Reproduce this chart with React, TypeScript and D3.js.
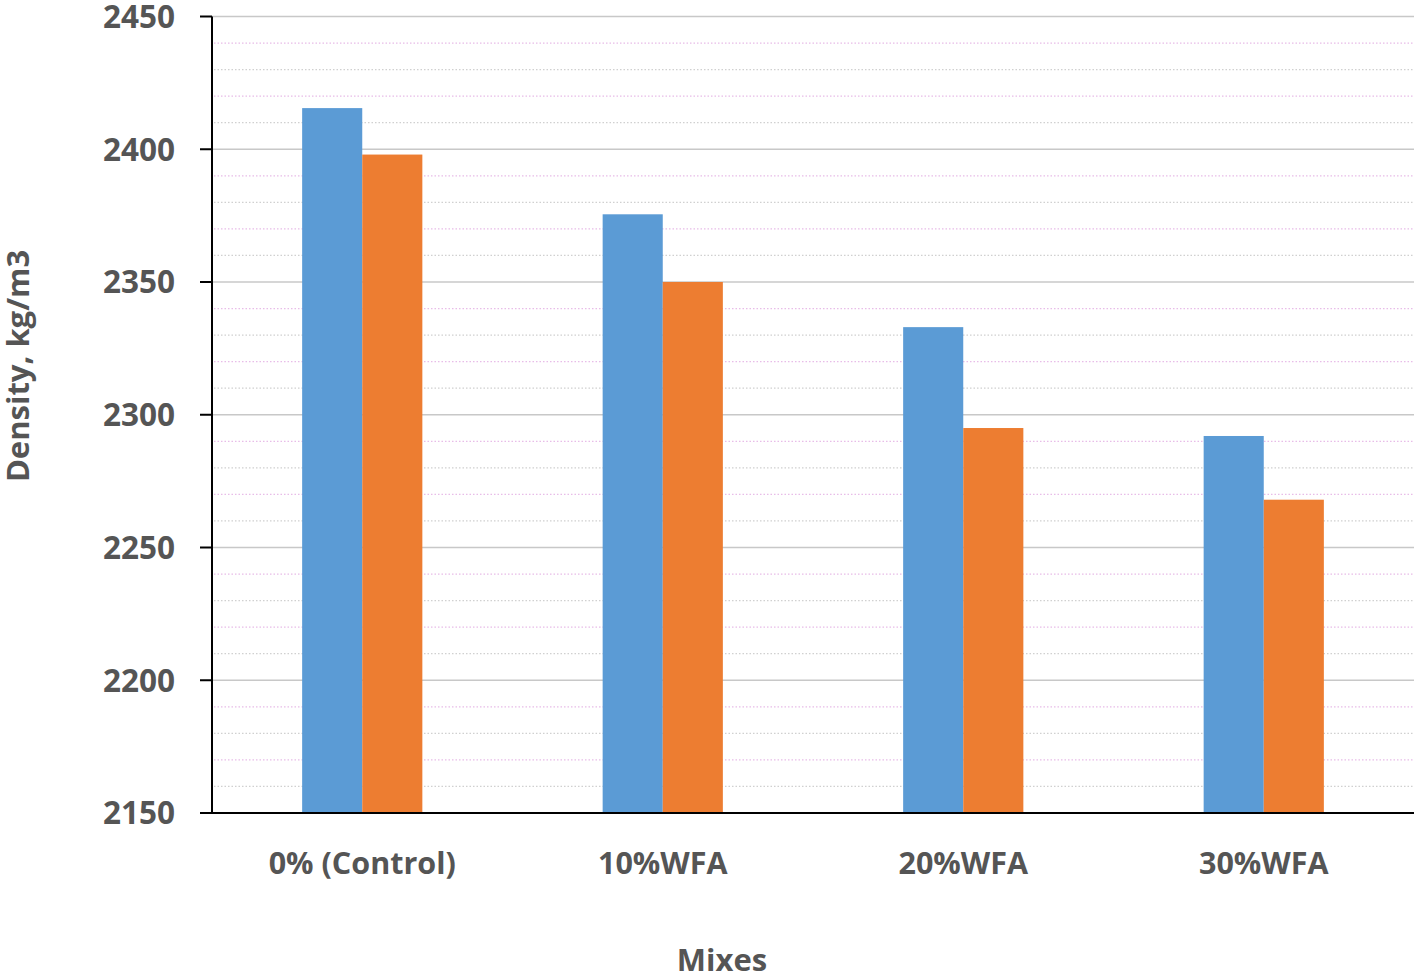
import React from "react";
import * as d3 from "d3";

const categories = ["0% (Control)", "10%WFA", "20%WFA", "30%WFA"];
const seriesA = [2415.5, 2375.5, 2333, 2292];
const seriesB = [2398, 2350, 2295, 2268];
const majorTicks = [2150, 2200, 2250, 2300, 2350, 2400, 2450];
const minorTicks = d3.range(2160, 2450, 10).filter((v) => v % 50 !== 0);
const colors = ["#5B9BD5", "#ED7D31"];

const W = 1417;
const H = 977;
const left = 212;
const right = 1414;
const top = 16.5;
const bottom = 813;
const font = "'Open Sans', 'DejaVu Sans', sans-serif";
const textColor = "#555555";

export default function App() {
  const y = d3.scaleLinear().domain([2150, 2450]).range([bottom, top]);
  const x0 = d3.scaleBand<string>().domain(categories).range([left, right]).paddingInner(0).paddingOuter(0);
  const x1 = d3
    .scaleBand<number>()
    .domain([0, 1])
    .range([x0.bandwidth() * 0.3, x0.bandwidth() * 0.7])
    .padding(0);
  const series = [seriesA, seriesB];

  return (
    <svg
      width={W}
      height={H}
      style={{ position: "absolute", left: 0, top: 0, background: "#fff" }}
    >
      {minorTicks.map((t, i) => (
        <line
          key={"m" + t}
          x1={left + 2}
          x2={right}
          y1={y(t)}
          y2={y(t)}
          stroke={i % 2 ? "#e8bce8" : "#d0d0d0"}
          strokeWidth={1.2}
          strokeDasharray="1.5,2"
        />
      ))}
      {majorTicks.slice(1).map((t) => (
        <line
          key={"g" + t}
          x1={left}
          x2={right}
          y1={y(t)}
          y2={y(t)}
          stroke="#c8c8c8"
          strokeWidth={1.6}
        />
      ))}
      {categories.map((c, i) =>
        series.map((s, j) => (
          <rect
            key={c + j}
            x={(x0(c) as number) + (x1(j) as number)}
            y={y(s[i])}
            width={x1.bandwidth()}
            height={bottom - y(s[i])}
            fill={colors[j]}
          />
        ))
      )}
      <line x1={left} x2={left} y1={top} y2={bottom} stroke="#000" strokeWidth={2} />
      <line x1={200} x2={right} y1={bottom} y2={bottom} stroke="#000" strokeWidth={2} />
      {majorTicks.map((t) => (
        <g key={"t" + t}>
          <line x1={200} x2={left} y1={y(t)} y2={y(t)} stroke="#000" strokeWidth={2} />
          <text
            x={175}
            y={y(t)}
            dy="0.36em"
            textAnchor="end"
            fontFamily={font}
            fontWeight={700}
            fontSize={31.5}
            fill={textColor}
          >
            {t}
          </text>
        </g>
      ))}
      {categories.map((c) => (
        <text
          key={"x" + c}
          x={(x0(c) as number) + x0.bandwidth() / 2}
          y={874}
          textAnchor="middle"
          fontFamily={font}
          fontWeight={700}
          fontSize={30.5}
          fill={textColor}
        >
          {c}
        </text>
      ))}
      <text
        x={722}
        y={971}
        textAnchor="middle"
        fontFamily={font}
        fontWeight={700}
        fontSize={31}
        fill={textColor}
      >
        Mixes
      </text>
      <text
        transform={`translate(29,366) rotate(-90)`}
        textAnchor="middle"
        fontFamily={font}
        fontWeight={700}
        fontSize={31}
        fill={textColor}
      >
        Density, kg/m3
      </text>
    </svg>
  );
}
